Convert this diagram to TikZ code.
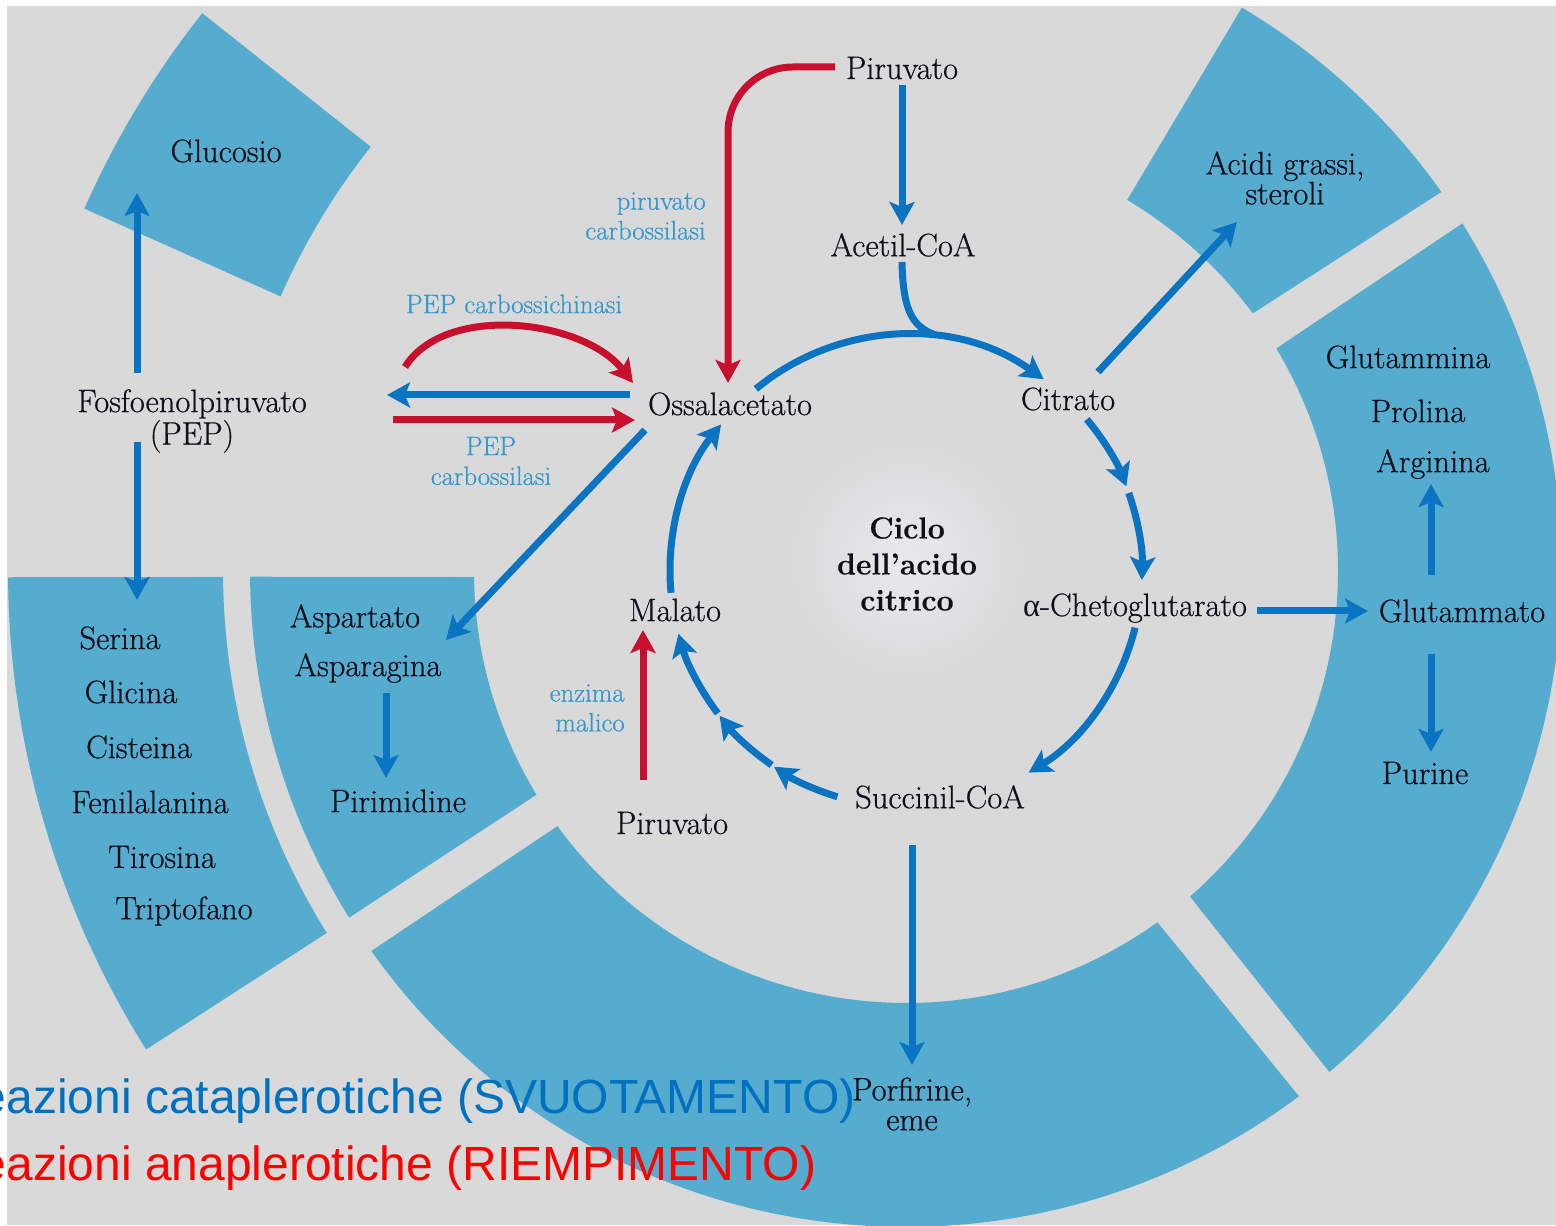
\documentclass[tikz,border=0pt]{standalone}
\usepackage{fontspec}
\usetikzlibrary{arrows.meta,fadings}
\newfontfamily\legendfont{Liberation Sans}
\newfontfamily\labelfont{Latin Modern Roman}[FakeBold=0.6]
\newfontfamily\greekfont{Liberation Serif}
\definecolor{bggray}{RGB}{217,217,217}
\definecolor{ringblue}{RGB}{86,172,207}
\definecolor{arrblue}{RGB}{10,116,194}
\definecolor{arrred}{RGB}{200,16,46}
\definecolor{enzblue}{RGB}{52,152,206}
\definecolor{inkblack}{RGB}{16,16,26}
\definecolor{legblue}{RGB}{0,112,192}
\definecolor{legred}{RGB}{255,0,0}
\definecolor{glowfill}{RGB}{236,239,243}
\tikzfading[name=glowfade, inner color=transparent!20, outer color=transparent!100]
\begin{document}
\begin{tikzpicture}[x=0.2mm, y=0.2mm,
    txt/.style={text=inkblack, font=\labelfont\fontsize{18.5}{17}\selectfont, align=center, inner sep=0pt},
    enz/.style={text=enzblue, font=\labelfont\fontsize{15.2}{17}\selectfont, inner sep=0pt},
    sector/.style={fill=ringblue},
    bluearrow/.style={draw=arrblue, line width=1.4mm, -{Stealth[length=4.6mm, width=5mm, inset=1mm]}},
    redarrow/.style={draw=arrred, line width=1.4mm, -{Stealth[length=4.6mm, width=5mm, inset=1mm]}}]
    \useasboundingbox (0,0) rectangle (1556,1225);
    \fill[bggray] (7,0) rectangle (1556,1219);
    % centre of rings and cycle
    \coordinate (O) at (906,654);
    \begin{scope}[shift={(O)}]
        % outer ring
        \fill[sector] (141.6:683) arc[start angle=141.6, end angle=156.3, radius=683] -- (156.2:898) arc[start angle=156.2, end angle=141.6, radius=898] -- cycle;
        \fill[sector] (180.5:683) arc[start angle=180.5, end angle=212.0, radius=683] -- (212.2:898) arc[start angle=212.2, end angle=180.4, radius=898] -- cycle;
        % inner ring
        \fill[sector] (180.8:432) arc[start angle=180.8, end angle=211.2, radius=432] -- (211.9:656) arc[start angle=211.9, end angle=180.5, radius=656] -- cycle;
        \fill[sector] (216.2:432) arc[start angle=216.2, end angle=305.6, radius=432] -- (306.8:656) arc[start angle=306.8, end angle=215.4, radius=656] -- cycle;
        \fill[sector] (-48.9:432) arc[start angle=-48.9, end angle=31.0, radius=432] -- (32.0:656) arc[start angle=32.0, end angle=-49.8, radius=656] -- cycle;
        \fill[sector] (36.6:432) arc[start angle=36.6, end angle=59.2, radius=432] -- (59.2:656) arc[start angle=59.2, end angle=35.3, radius=656] -- cycle;
    \end{scope}
    \fill[glowfill, path fading=glowfade] (907,665) circle (125);

    % metabolites
    \node[txt] (glucosio) at (226,1074) {Glucosio};
    \node[txt] (pep) at (192,804) {Fosfoenolpiruvato\\(PEP)};
    \node[txt] (serina) at (120,587) {Serina};
    \node[txt] (glicina) at (131,533) {Glicina};
    \node[txt] (cisteina) at (139,478) {Cisteina};
    \node[txt] (fenilalanina) at (150,423) {Fenilalanina};
    \node[txt] (tirosina) at (162,368) {Tirosina};
    \node[txt] (triptofano) at (184,314) {Triptofano};
    \node[txt] (aspartato) at (355,606) {Aspartato};
    \node[txt] (asparagina) at (368,557) {Asparagina};
    \node[txt] (pirimidine) at (398,424) {Pirimidine};
    \node[txt] (piruvato-top) at (902,1157) {Piruvato};
    \node[txt] (acetil) at (903,980) {Acetil-CoA};
    \node[txt] (ossalacetato) at (730,821) {Ossalacetato};
    \node[txt] (citrato) at (1068,826) {Citrato};
    \node[txt] (acidi) at (1285,1047) {Acidi grassi,\\steroli};
    \node[txt] (glutammina) at (1408,868) {Glutammina};
    \node[txt] (prolina) at (1418,814) {Prolina};
    \node[txt] (arginina) at (1433,761) {Arginina};
    \node[txt, font=\labelfont\bfseries\fontsize{17.2}{20.5}\selectfont] (ciclo) at (907,661) {Ciclo\\dell’acido\\citrico};
    \node[txt] (akg) at (1135,617) {{\greekfont α}-Chetoglutarato};
    \node[txt] (glutammato) at (1462,614) {Glutammato};
    \node[txt] (purine) at (1425,452) {Purine};
    \node[txt] (malato) at (675,615) {Malato};
    \node[txt] (piruvato-bottom) at (672,402) {Piruvato};
    \node[txt] (succinil) at (940,428) {Succinil-CoA};
    \node[txt] (porfirine) at (912,121) {Porfirine,\\eme};
    % enzymes
    \node[enz, align=right, anchor=east] (pc) at (706,1009) {piruvato\\carbossilasi};
    \node[enz] (pepck) at (514,921) {PEP carbossichinasi};
    \node[enz, align=center] (pepc) at (491,764) {PEP\\carbossilasi};
    \node[enz, align=right, anchor=east] (malic) at (625,517) {enzima\\malico};

    % outflow
    \draw[bluearrow] ([shift={(-55,48)}]pep.center) -- ([shift={(-89,-42)}]glucosio.center);
    \draw[bluearrow] ([shift={(-55,-21)}]pep.center) -- ([shift={(17,38)}]serina.center);
    \draw[bluearrow] ([shift={(0,-17)}]piruvato-top.center) -- ([shift={(-1,20)}]acetil.center);
    \draw[bluearrow] ([shift={(-100,9)}]ossalacetato.center) -- ([shift={(195,26)}]pep.center);
    \draw[bluearrow] ([shift={(-85,-26)}]ossalacetato.center) -- ([shift={(91,-21)}]aspartato.center);
    \draw[bluearrow] ([shift={(30,27)}]citrato.center) -- ([shift={(-48,-44)}]acidi.center);
    \draw[bluearrow] ([shift={(122,-3)}]akg.center) -- ([shift={(-94,0)}]glutammato.center);
    \draw[bluearrow] ([shift={(-31,36)}]glutammato.center) -- ([shift={(-2,-20)}]arginina.center);
    \draw[bluearrow] ([shift={(-31,-43)}]glutammato.center) -- ([shift={(6,21)}]purine.center);
    \draw[bluearrow] ([shift={(18,-25)}]asparagina.center) -- ([shift={(-12,23)}]pirimidine.center);
    \draw[bluearrow] ([shift={(-28,-48)}]succinil.center) -- ([shift={(0,39)}]porfirine.center);

    % the cycle
    \draw[draw=arrblue, line width=1.4mm] ([shift={(-1,-17)}]acetil.center) .. controls +(1,-50) and +(-22,8) .. ([shift={(83:238)}]O);
    \draw[bluearrow] ([shift={(129.5:236)}]O) arc[start angle=129.5, end angle=54.3, radius=236];
    \draw[bluearrow] ([shift={(40:236)}]O) arc[start angle=40, end angle=21, radius=236];
    \draw[bluearrow] ([shift={(19.3:236)}]O) arc[start angle=19.3, end angle=-2.2, radius=236];
    \draw[bluearrow] ([shift={(-13.9:236)}]O) arc[start angle=-13.9, end angle=-58.7, radius=236];
    \draw[bluearrow] ([shift={(253.1:236)}]O) arc[start angle=253.1, end angle=236, radius=236];
    \draw[bluearrow] ([shift={(235.3:236)}]O) arc[start angle=235.3, end angle=217.8, radius=236];
    \draw[bluearrow] ([shift={(217.1:236)}]O) arc[start angle=217.1, end angle=195.4, radius=236];
    \draw[bluearrow] ([shift={(185.3:236)}]O) arc[start angle=185.3, end angle=141.6, radius=236];

    % inflow
    \draw[redarrow, rounded corners=13mm] ([shift={(-67,1)}]piruvato-top.center) -| ([shift={(-2,21)}]ossalacetato.center);
    \draw[redarrow] ([shift={(213,54)}]pep.center) .. controls +(40,64) and +(-50,64) .. ([shift={(-97,21)}]ossalacetato.center);
    \draw[redarrow] ([shift={(201,1)}]pep.center) -- ([shift={(-95,-16)}]ossalacetato.center);
    \draw[redarrow] ([shift={(-29,43)}]piruvato-bottom.center) -- ([shift={(-32,-20)}]malato.center);

    % legend
    \node[inner sep=0pt, anchor=base west, text=legblue, font=\legendfont\fontsize{27.3}{30}\selectfont] (cata) at (-55,112) {Reazioni cataplerotiche (SVUOTAMENTO)};
    \node[inner sep=0pt, anchor=base west, text=legred, font=\legendfont\fontsize{27.3}{30}\selectfont] (ana) at (-55,45) {Reazioni anaplerotiche (RIEMPIMENTO)};
\end{tikzpicture}
\end{document}
